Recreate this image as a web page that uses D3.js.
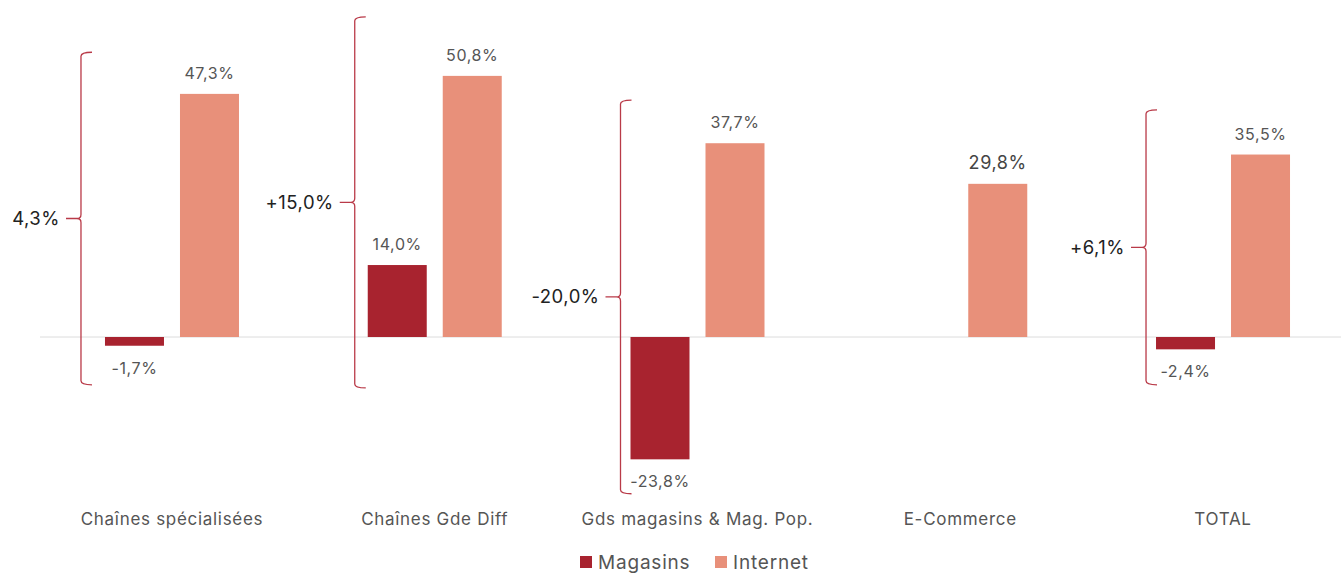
<!DOCTYPE html>
<html><head><meta charset="utf-8">
<script src="https://cdn.jsdelivr.net/npm/d3@7"></script>
<style>body{margin:0;background:#fff}svg{display:block}text{font-family:Inter,"Liberation Sans",sans-serif}</style>
</head><body>
<svg id="c" width="1341" height="574"></svg>
<script>
const categories = ["Chaînes spécialisées","Chaînes Gde Diff","Gds magasins & Mag. Pop.","E-Commerce","TOTAL"];
const magasins = [-1.7, 14.0, -23.8, null, -2.4];
const internet = [47.3, 50.8, 37.7, 29.8, 35.5];
const totalLabels = ["4,3%","+15,0%","-20,0%",null,"+6,1%"];
const braceTop = [55.4, 62.3, 46.1, null, 44.2];
const braceBottom = [-9.3, -9.9, -30.5, null, -9.3];
const braceOffset = [24, 13, 10, 0, 10];
const seriesNames = ["Magasins","Internet"];
const colors = ["#a8232f","#e8907a"];

const fmt = v => v.toFixed(1).replace(".", ",") + "%";
const svg = d3.select("#c");
const x = d3.scaleBand().domain(categories).range([40.6, 1354.4]);
const y = d3.scaleLinear().domain([-30, 60]).range([491.2, 28.6]);
const barW = 59, gap = 16;
const y0 = y(0);

svg.append("line").attr("x1", 40).attr("x2", 1341).attr("y1", y0).attr("y2", y0)
  .attr("stroke", "#dcdcdc").attr("stroke-width", 1);

const groups = categories.map((c, i) => ({c, i, m: magasins[i], n: internet[i]}));
const cx = c => x(c) + x.bandwidth() / 2;

groups.forEach(g => {
  const xm = cx(g.c) - gap / 2 - barW, xi = cx(g.c) + gap / 2;
  if (g.m != null) {
    svg.append("rect").attr("x", xm).attr("width", barW)
      .attr("y", y(Math.max(0, g.m))).attr("height", Math.abs(y(g.m) - y0)).attr("fill", colors[0]);
    svg.append("text").attr("x", xm + barW / 2)
      .attr("y", g.m >= 0 ? y(g.m) - 15 : y(g.m) + 28)
      .attr("text-anchor", "middle").attr("font-size", 16).attr("letter-spacing", 0.6)
      .attr("fill", "#555").text(fmt(g.m));
  }
  svg.append("rect").attr("x", xi).attr("width", barW)
    .attr("y", y(g.n)).attr("height", y0 - y(g.n)).attr("fill", colors[1]);
  svg.append("text").attr("x", xi + barW / 2).attr("y", y(g.n) - 15)
    .attr("text-anchor", "middle").attr("font-size", g.m == null ? 18 : 16).attr("letter-spacing", 0.6)
    .attr("fill", g.m == null ? "#444" : "#555").text(fmt(g.n));

  svg.append("text").attr("x", cx(g.c)).attr("y", 525).attr("text-anchor", "middle")
    .attr("font-size", 17).attr("letter-spacing", 0.7).attr("fill", "#555").text(g.c);

  if (totalLabels[g.i] != null) {
    const bx = xm - braceOffset[g.i];
    const t = y(braceTop[g.i]), b = y(braceBottom[g.i]), mid = (t + b) / 2;
    const p = d3.path();
    p.moveTo(bx + 11, t);
    p.quadraticCurveTo(bx, t, bx, t + 4);
    p.lineTo(bx, mid - 4);
    p.quadraticCurveTo(bx, mid, bx - 4, mid);
    p.lineTo(bx - 15, mid);
    p.moveTo(bx - 4, mid);
    p.quadraticCurveTo(bx, mid, bx, mid + 4);
    p.lineTo(bx, b - 4);
    p.quadraticCurveTo(bx, b, bx + 11, b);
    svg.append("path").attr("d", p.toString()).attr("fill", "none")
      .attr("stroke", "#b93a48").attr("stroke-width", 1.3);
    svg.append("text").attr("x", bx - 21).attr("y", mid).attr("dy", "0.35em")
      .attr("text-anchor", "end").attr("font-size", 18.5).attr("letter-spacing", 0.5)
      .attr("fill", "#222").text(totalLabels[g.i]);
  }
});

const leg = svg.append("g");
const legX = [580, 715];
seriesNames.forEach((s, i) => {
  leg.append("rect").attr("x", legX[i]).attr("y", 556).attr("width", 12).attr("height", 12).attr("fill", colors[i]);
  leg.append("text").attr("x", legX[i] + 18).attr("y", 569).attr("font-size", 19).attr("letter-spacing", 0.8)
    .attr("fill", "#555").text(s);
});
</script>
</body></html>
